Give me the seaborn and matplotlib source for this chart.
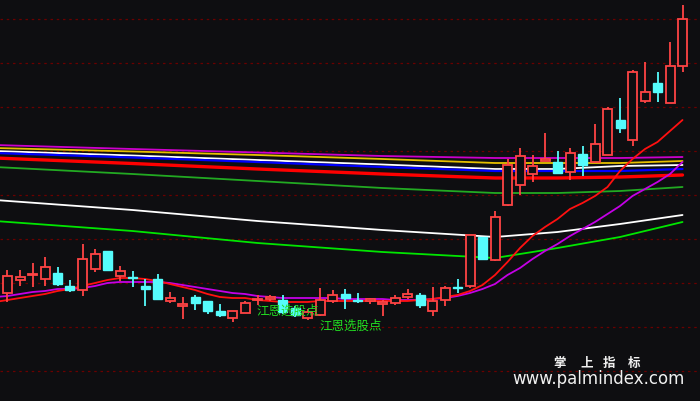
import numpy as np
import pandas as pd
import matplotlib
matplotlib.use("Agg")
import matplotlib.pyplot as plt
import seaborn as sns

# candle data (price units), 55 bars
opens  = [12.6, 13.9, 14.4, 14.0, 14.6, 13.3, 12.9, 15.0, 16.8, 14.3,
          14.2, 13.3, 14.0, 11.8, 11.3, 12.2, 11.8, 10.8, 10.1, 10.6,
          11.9, 12.0, 11.9, 11.1, 10.1, 10.4, 11.8, 12.5, 11.9, 11.8,
          11.5, 11.6, 12.2, 12.4, 10.8, 11.9, 13.2, 13.3, 18.2, 15.9,
          21.4, 23.4, 24.5, 25.8, 25.7, 24.7, 26.5, 25.7, 26.4, 29.9,
          27.9, 31.8, 33.6, 31.6, 35.3]
highs  = [14.9, 14.9, 15.6, 16.2, 15.2, 13.9, 17.5, 17.0, 16.8, 15.3,
          14.8, 14.0, 14.5, 12.7, 12.2, 12.4, 11.8, 11.5, 10.8, 11.8,
          12.4, 12.4, 12.4, 11.3, 11.0, 13.1, 12.9, 13.0, 12.6, 12.1,
          11.9, 12.4, 13.0, 12.6, 13.2, 13.3, 14.0, 18.4, 18.2, 20.8,
          26.0, 27.1, 26.4, 28.6, 26.8, 27.1, 27.3, 29.5, 31.2, 32.1,
          34.9, 35.7, 34.7, 37.7, 41.4]
lows   = [11.7, 13.3, 13.2, 13.3, 13.3, 12.7, 12.3, 14.7, 14.8, 13.8,
          13.2, 11.3, 11.9, 11.6, 10.0, 10.9, 10.5, 10.2, 9.7, 10.6,
          11.4, 11.8, 10.5, 10.2, 9.9, 10.3, 11.6, 11.0, 11.6, 11.5,
          10.3, 11.4, 12.0, 11.1, 10.3, 11.3, 12.6, 13.1, 16.0, 15.8,
          21.3, 22.4, 23.7, 25.8, 24.6, 23.9, 24.3, 25.7, 26.4, 28.6,
          27.3, 31.6, 31.7, 31.6, 34.7]
closes = [14.3, 14.2, 14.5, 15.2, 13.5, 12.9, 16.0, 16.5, 14.9, 14.8,
          14.1, 13.0, 12.0, 12.1, 11.5, 11.6, 10.8, 10.4, 10.8, 11.6,
          12.0, 12.2, 10.7, 10.4, 10.7, 11.9, 12.4, 12.1, 11.8, 12.0,
          11.7, 12.1, 12.5, 11.4, 11.8, 13.1, 13.1, 18.4, 16.0, 20.2,
          25.4, 26.3, 25.3, 26.0, 24.6, 26.6, 25.4, 27.5, 31.0, 29.1,
          34.7, 32.7, 32.7, 35.3, 40.0]

# short moving averages, bar -1 .. 54
ma_fast = [11.7, 11.9, 12.1, 12.3, 12.5, 12.8, 13.0, 13.3, 13.6, 13.9, 14.1,
           14.1, 14.0, 13.8, 13.5, 13.2, 12.9, 12.5, 12.2, 12.1, 12.1,
           11.9, 11.8, 11.7, 11.7, 11.7, 11.8, 11.8, 11.8, 11.8, 11.8,
           11.8, 11.8, 11.8, 11.9, 12.0, 12.2, 12.4, 12.8, 13.4, 14.4,
           15.7, 17.1, 18.3, 19.2, 20.0, 21.0, 21.6, 22.3, 23.2, 24.8,
           26.0, 27.0, 27.7, 28.8, 29.9]
ma_mid = [12.2, 12.3, 12.5, 12.7, 12.8, 13.0, 13.0, 13.1, 13.3, 13.6, 13.7,
          13.7, 13.7, 13.7, 13.6, 13.4, 13.2, 13.0, 12.8, 12.6, 12.5,
          12.3, 12.2, 12.1, 12.1, 12.1, 12.1, 12.1, 12.0, 12.0, 12.0,
          12.0, 11.9, 11.9, 11.9, 12.0, 12.1, 12.3, 12.6, 13.0, 13.5,
          14.4, 15.1, 16.0, 16.8, 17.5, 18.3, 19.0, 19.7, 20.5, 21.3,
          22.3, 23.0, 23.7, 24.5, 25.7]

# long moving averages read at a few bars
long_idx = [-1, 10, 20, 30, 39, 44, 49, 54]
ma_magenta = [27.4, 27.0, 26.65, 26.3, 26.1, 26.1, 26.1, 26.2]
ma_yellow = [27.1, 26.75, 26.4, 26.0, 25.6, 25.6, 25.6, 25.8]
ma_white = [26.8, 26.35, 25.9, 25.45, 25.0, 25.0, 25.3, 25.4]
ma_blue = [26.6, 26.15, 25.7, 25.2, 24.8, 24.8, 24.8, 25.0]
ma_red = [26.1, 25.55, 25.0, 24.5, 24.1, 24.1, 24.2, 24.4]
ma_green = [25.2, 24.5, 23.8, 23.1, 22.6, 22.6, 22.8, 23.2]
ma_white2 = [21.9, 20.9, 19.8, 18.9, 18.2, 18.7, 19.5, 20.4]
ma_green2 = [19.8, 18.8, 17.6, 16.7, 16.1, 17.1, 18.2, 19.7]

grid_levels = [4.8, 9.2, 13.6, 18.0, 22.4, 26.8, 31.2, 35.6, 40.0]

# signal labels: (bar, price)
labels = [(20, 10.9), (25, 9.4)]
label_text = "江恩选股点"

brand_chars = ["掌", "上", "指", "标"]
brand_x = [0.800, 0.838, 0.870, 0.906]

BG = "#0e0e11"
UP = "#ff4444"
DOWN = "#55fcfc"

sns.set_theme(style="dark", rc={"axes.facecolor": BG, "figure.facecolor": BG})
plt.rcParams['font.family'] = ['Noto Sans CJK SC', 'DejaVu Sans']

fig = plt.figure(figsize=(7, 4.02), dpi=100)
ax = fig.add_axes([0, 0, 1, 1])
ax.set_facecolor(BG)

for g in grid_levels:
    ax.axhline(g, color="#6a0000", lw=0.9, ls=(0, (2, 3)), zorder=1)

longs = [(ma_magenta, "#cc00cc", 1.3), (ma_yellow, "#e6c000", 1.3),
         (ma_white, "#ffffff", 1.3), (ma_blue, "#0000ff", 1.6),
         (ma_red, "#ff0000", 2.4), (ma_green, "#22aa22", 1.3),
         (ma_white2, "#ffffff", 1.3), (ma_green2, "#00e600", 1.3)]
for vals, col, lw in longs:
    sns.lineplot(x=long_idx, y=vals, ax=ax, color=col, lw=lw, zorder=2)

bars = np.arange(-1, 55)
sns.lineplot(x=bars, y=ma_mid, ax=ax, color="#c400e6", lw=1.3, zorder=2)
sns.lineplot(x=bars, y=ma_fast, ax=ax, color="#ff1010", lw=1.3, zorder=2)

w = 0.72
for i, (o, h, l, c) in enumerate(zip(opens, highs, lows, closes)):
    if c >= o:
        top, bot = c, o
        ax.vlines(i, top, h, color=UP, lw=1.3, zorder=3)
        ax.vlines(i, l, bot, color=UP, lw=1.3, zorder=3)
        ax.add_patch(plt.Rectangle((i - w / 2, bot), w, max(top - bot, 0.08),
                                   facecolor=BG, edgecolor=UP, lw=1.3, zorder=4))
    else:
        ax.vlines(i, l, h, color=DOWN, lw=1.3, zorder=3)
        ax.add_patch(plt.Rectangle((i - w / 2, c), w, max(o - c, 0.08),
                                   facecolor=DOWN, edgecolor=DOWN, lw=1.0, zorder=4))

for b, p in labels:
    ax.text(b - 0.05, p, label_text, color="#22dd22", fontsize=9,
            va="center", ha="left", zorder=5)

for ch, bx in zip(brand_chars, brand_x):
    ax.text(bx, 0.097, ch, transform=ax.transAxes, color="#f0f0f0",
            fontsize=9, fontweight="bold", ha="center", va="center", zorder=6)
ax.text(0.855, 0.058, "www.palmindex.com", transform=ax.transAxes, color="#f0f0f0",
        fontsize=12, family=["DejaVu Sans"], ha="center", va="center", zorder=6)

ax.set_xlim(-0.6, 55.4)
ax.set_ylim(1.8, 42.0)
ax.set_xticks([])
ax.set_yticks([])
for s in ax.spines.values():
    s.set_visible(False)
ax.grid(False)

fig.savefig("out.png", dpi=100, facecolor=BG)
